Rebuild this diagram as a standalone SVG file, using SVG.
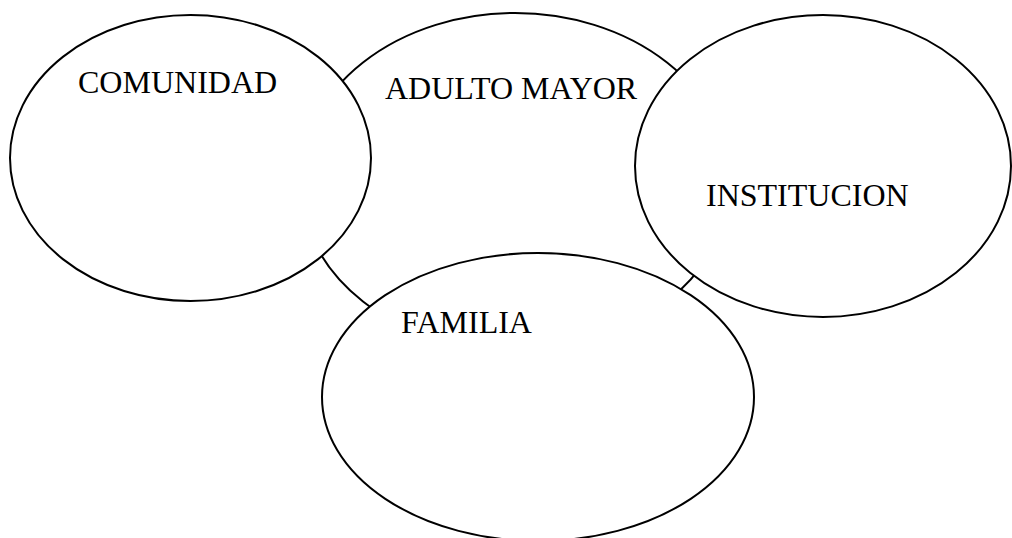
<svg xmlns="http://www.w3.org/2000/svg" width="1012" height="538" viewBox="0 0 1012 538">
<style>
.shape{fill:#ffffff;stroke:#000000;stroke-width:2}
.lbl{font-family:"Liberation Serif","Times New Roman",serif;font-size:32px;fill:#000000}
</style>
<rect width="1012" height="538" fill="#ffffff"/>
<g id="connectors"></g>
<g id="adulto-mayor">
<ellipse class="shape" cx="515" cy="182" rx="215" ry="169"/>
<text class="lbl" x="385" y="99">ADULTO MAYOR</text>
</g>
<g id="comunidad">
<ellipse class="shape" cx="190.5" cy="158" rx="180.5" ry="143"/>
<text class="lbl" x="78" y="93">COMUNIDAD</text>
</g>
<g id="institucion">
<ellipse class="shape" cx="823" cy="166" rx="188" ry="151"/>
<text class="lbl" x="706" y="206">INSTITUCION</text>
</g>
<g id="familia">
<ellipse class="shape" cx="538" cy="397" rx="216" ry="144"/>
<text class="lbl" x="401" y="333">FAMILIA</text>
</g>
</svg>
